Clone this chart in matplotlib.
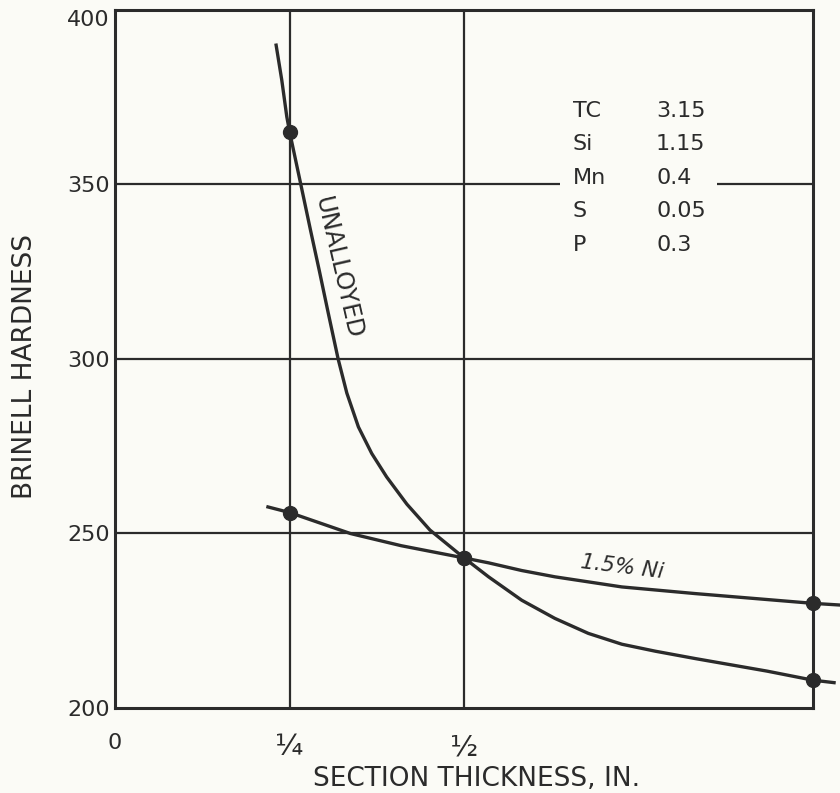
import matplotlib
matplotlib.use("Agg")
import matplotlib.pyplot as plt

# --------------------------------------------
# Data
# --------------------------------------------

thickness_unalloyed = [0.2307, 0.2388, 0.246, 0.25, 0.266, 0.280, 0.2924, 0.3055,
                       0.3195, 0.332, 0.3486, 0.3677, 0.389, 0.418, 0.451, 0.5,
                       0.535, 0.5825, 0.630, 0.678, 0.726, 0.774, 0.831, 0.934,
                       1.0, 1.03]
hardness_unalloyed = [389.8, 379.8, 369.3, 365, 350, 336.8, 325.4, 313,
                      300, 290.2, 280.5, 272.9, 266.2, 258.4, 251, 243,
                      237.6, 230.9, 225.7, 221.4, 218.3, 216.3, 214.2, 210.6,
                      208, 207.3]

thickness_ni = [0.219, 0.25, 0.337, 0.41, 0.5, 0.535, 0.5825, 0.630, 0.726,
                0.831, 1.0, 1.04]
hardness_ni = [257.6, 256, 250, 246.5, 243, 241.6, 239.4, 237.6, 234.7,
               232.8, 230, 229.5]

# measured points (dots)
point_x = [0.25, 0.5, 1.0]
points_unalloyed = [365, 243, 208]
points_ni = [256, 243, 230]

y_ticks = [200, 250, 300, 350, 400]
x_ticks = [0, 0.25, 0.5]
x_tick_labels = ["0", "\u00bc", "\u00bd"]

comp_names = ["TC", "Si", "Mn", "S", "P"]
comp_values = ["3.15", "1.15", "0.4", "0.05", "0.3"]

ink = "#2b2b2b"
paper = "#fbfbf6"

# --------------------------------------------
# Figure
# --------------------------------------------

fig = plt.figure(figsize=(8.4, 7.93), dpi=100, facecolor=paper)
ax = fig.add_axes([0.137, 0.107, 0.831, 0.881])
ax.set_facecolor(paper)

ax.set_xlim(0, 1)
ax.set_ylim(200, 400)

# grid lines
for gx in [0.25, 0.5]:
    ax.axvline(gx, color=ink, lw=1.6, zorder=1)
for gy in [250, 300]:
    ax.axhline(gy, color=ink, lw=1.6, zorder=1)
# 350 line is broken around the composition table
ax.hlines(350, 0, 0.637, color=ink, lw=1.6, zorder=1)
ax.hlines(350, 0.862, 1, color=ink, lw=1.6, zorder=1)

# curves
ax.plot(thickness_unalloyed, hardness_unalloyed, color=ink, lw=2.4,
        clip_on=False, zorder=3, solid_joinstyle="round")
ax.plot(thickness_ni, hardness_ni, color=ink, lw=2.4, clip_on=False, zorder=3,
        solid_joinstyle="round")

ax.plot(point_x, points_unalloyed, "o", color=ink, ms=10, clip_on=False, zorder=4)
ax.plot(point_x, points_ni, "o", color=ink, ms=10, clip_on=False, zorder=4)

# curve labels
ax.text(0.3195, 326, "UNALLOYED", rotation=-77, fontsize=17.5, color=ink,
        ha="center", va="center", rotation_mode="anchor")
ax.text(0.726, 240.5, "1.5% Ni", rotation=-7, fontsize=15.5, color=ink,
        style="italic", ha="center", va="center", rotation_mode="anchor")

# composition table
for i in range(len(comp_names)):
    yy = 371 - i * 9.6
    ax.text(0.656, yy, comp_names[i], fontsize=16, color=ink, ha="left", va="center")
    ax.text(0.775, yy, comp_values[i], fontsize=16, color=ink, ha="left", va="center")

# axes styling
for side in ["left", "right", "top", "bottom"]:
    ax.spines[side].set_color(ink)
    ax.spines[side].set_linewidth(2.2)

ax.set_yticks(y_ticks)
ax.set_yticklabels([str(v) for v in y_ticks])
ax.set_xticks(x_ticks)
ax.set_xticklabels(x_tick_labels)
ax.tick_params(axis="both", length=0, labelsize=16, colors=ink)
ax.tick_params(axis="y", pad=4)
ax.tick_params(axis="x", pad=18)

# fractions are drawn larger, top label sits below the border
for lab in ax.get_xticklabels()[1:]:
    lab.set_fontsize(21)
ax.get_yticklabels()[-1].set_va("top")

fig.text(477 / 840, 1 - 779 / 793, "SECTION THICKNESS, IN.", fontsize=19,
         color=ink, ha="center", va="center")
fig.text(25 / 840, 1 - 367 / 793, "BRINELL HARDNESS", fontsize=19,
         color=ink, ha="center", va="center", rotation=90)

fig.savefig("out.png", dpi=100, facecolor=paper)
